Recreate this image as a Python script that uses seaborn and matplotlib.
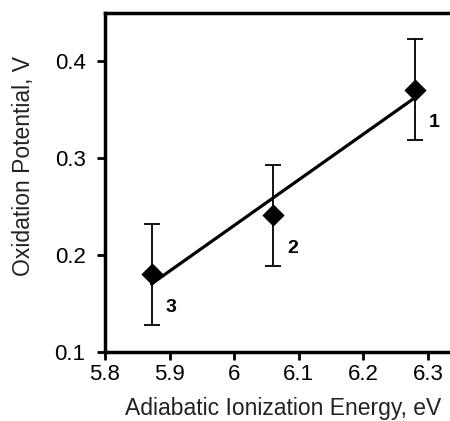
import matplotlib
matplotlib.use("Agg")
import matplotlib.pyplot as plt
import seaborn as sns
import pandas as pd

energy = [6.28, 6.06, 5.872]
potential = [0.371, 0.241, 0.180]
error = [0.052, 0.052, 0.052]
labels = ["1", "2", "3"]

df = pd.DataFrame({"energy": energy, "potential": potential})

sns.set_style("ticks")
plt.rcParams['font.family'] = ['Liberation Sans', 'DejaVu Sans']
plt.rcParams['text.color'] = 'black'
plt.rcParams['axes.labelcolor'] = '#222222'
plt.rcParams['xtick.color'] = 'black'
plt.rcParams['ytick.color'] = 'black'

fig = plt.figure(figsize=(4.5, 4.21), dpi=100)
ax = fig.add_axes([0.2333, 0.164, 0.7667, 0.805])

sns.regplot(data=df, x="energy", y="potential", ci=None, truncate=True,
            scatter=False, ax=ax, line_kws=dict(color="black", lw=2.3))
ax.errorbar(energy, potential, yerr=error, fmt="none", ecolor="black",
            elinewidth=1.3, capsize=5.5, capthick=1.3, zorder=3)
sns.scatterplot(data=df, x="energy", y="potential", marker="D", s=110,
                color="black", edgecolor="black", ax=ax, zorder=4)

for x, y, t in zip(energy, potential, labels):
    ax.annotate(t, (x, y), xytext=(14, -24), textcoords="offset points",
                ha="center", va="center", fontsize=14, fontweight="bold")

ax.set_xlim(5.8, 6.334)
ax.set_ylim(0.1, 0.45)
ax.set_xticks([5.8, 5.9, 6.0, 6.1, 6.2, 6.3])
ax.set_xticklabels(["5.8", "5.9", "6", "6.1", "6.2", "6.3"])
ax.set_yticks([0.1, 0.2, 0.3, 0.4])
ax.set_yticklabels(["0.1", "0.2", "0.3", "0.4"])
ax.set_xlabel("Adiabatic Ionization Energy, eV", fontsize=16.5)
ax.set_ylabel("Oxidation Potential, V", fontsize=16.5)
ax.tick_params(axis="both", labelsize=16, direction="out", length=6, width=2,
               color="black")
ax.tick_params(axis="x", pad=3)
ax.tick_params(axis="y", pad=8)
for s in ["left", "bottom", "top"]:
    ax.spines[s].set_linewidth(2.5)
    ax.spines[s].set_color("black")
ax.spines["right"].set_visible(False)
ax.xaxis.set_label_coords(0.516, -0.133)
ax.yaxis.set_label_coords(-0.202, 0.549)

fig.savefig("out.png", dpi=100)
